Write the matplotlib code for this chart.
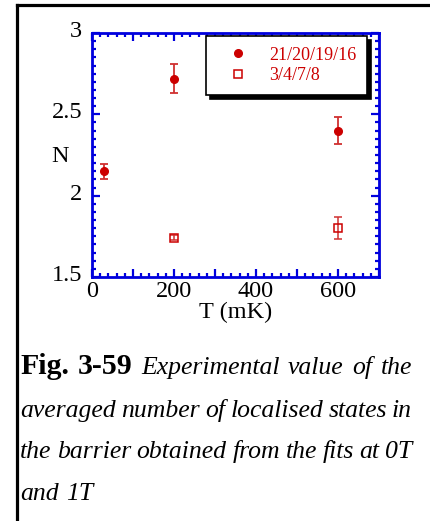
import matplotlib
matplotlib.use('Agg')
import matplotlib.pyplot as plt
from matplotlib.lines import Line2D
from matplotlib.ticker import MultipleLocator, FuncFormatter
from matplotlib.transforms import ScaledTranslation

plt.rcParams['font.family'] = ['Liberation Serif', 'DejaVu Serif']

"""Data read off the picture."""
t_filled = [30, 200, 600]
n_filled = [2.15, 2.72, 2.40]
err_filled = [0.045, 0.09, 0.085]

t_open = [200, 600]
n_open = [1.742, 1.803]
err_open = [0.015, 0.068]

labels = ['21/20/19/16', '3/4/7/8']

red = '#cc0000'
blue = '#0000dd'

W, H = 430, 521
fig = plt.figure(figsize=(W / 100, H / 100), dpi=100)
ax = fig.add_axes([92 / W, (H - 277) / H, 287 / W, 244 / H])

# data
ax.errorbar(t_filled, n_filled, yerr=err_filled, fmt='o', ms=5.5, color=red,
            ecolor='#d03030', elinewidth=1.3, capsize=3, capthick=1.3, zorder=3)
ax.errorbar(t_open, n_open, yerr=err_open, fmt='s', ms=6, mfc='none', mec=red, mew=1.1,
            ecolor='#d03030', elinewidth=1.1, capsize=3, capthick=1.1, zorder=3)

ax.set_xlim(0, 700)
ax.set_ylim(1.5, 3)

# ticks
ax.xaxis.set_major_locator(MultipleLocator(100))
ax.xaxis.set_minor_locator(MultipleLocator(20))
ax.xaxis.set_major_formatter(FuncFormatter(lambda v, p: '%d' % v if int(round(v)) % 200 == 0 else ''))
ax.yaxis.set_major_locator(MultipleLocator(0.5))
ax.yaxis.set_minor_locator(MultipleLocator(0.05))
ax.yaxis.set_major_formatter(FuncFormatter(lambda v, p: '%g' % v))
ax.tick_params(which='both', direction='in', top=True, right=True, color=blue, width=1.6)
ax.tick_params(which='major', length=6)
ax.tick_params(which='minor', length=3)
ax.tick_params(axis='y', which='major', pad=7, labelsize=17.5)
ax.tick_params(axis='x', which='major', pad=3, labelsize=17.5)
for s in ax.spines.values():
    s.set_color(blue)
    s.set_linewidth(2)

# y tick labels sit a little above their ticks in the original
up = ScaledTranslation(0, 4 / 100, fig.dpi_scale_trans)
for tk in ax.yaxis.get_major_ticks():
    tk.label1.set_transform(tk.label1.get_transform() + up)

ax.set_xlabel('T (mK)', fontsize=17.5, labelpad=0)
ax.set_ylabel('N', fontsize=17.5, rotation=0, va='center', ha='center')
ax.yaxis.set_label_coords(-0.111, 0.492)

# legend
handles = [Line2D([], [], ls='none', marker='o', ms=5.5, color=red),
           Line2D([], [], ls='none', marker='s', ms=6, mfc='none', mec=red, mew=1.1)]
leg = ax.legend(handles, labels, loc='upper left', bbox_to_anchor=(0.397, 0.988),
                borderaxespad=0, fontsize=13, frameon=True, fancybox=False,
                shadow={'color': 'k', 'alpha': 1, 'ox': 3, 'oy': -3},
                handlelength=2.4, handletextpad=0.5, borderpad=0.6, labelspacing=0.2)
leg.get_frame().set_edgecolor('k')
leg.get_frame().set_linewidth(1.2)
leg.get_frame().set_alpha(1)
for t in leg.get_texts():
    t.set_color(red)

# page border
fig.add_artist(Line2D([16.5 / W, 16.5 / W], [0, 1 - 5 / H], color='k', lw=2.3,
                      transform=fig.transFigure, solid_capstyle='projecting'))
fig.add_artist(Line2D([16.5 / W, 1], [1 - 5 / H, 1 - 5 / H], color='k', lw=2.3,
                      transform=fig.transFigure, solid_capstyle='projecting'))

# caption, justified by hand
B, I = 'bold', 'italic'
caption = [
    ([('Fig.', B), ('3-59', B), ('Experimental', I), ('value', I), ('of', I), ('the', I)], 374, True),
    ([(w, I) for w in 'averaged number of localised states in'.split()], 417, True),
    ([(w, I) for w in 'the barrier obtained from the fits at 0T'.split()], 458, True),
    ([(w, I) for w in 'and 1T'.split()], 500, False),
]
x0, x1 = 20, 412
renderer = fig.canvas.get_renderer()
for words, yb, justify in caption:
    arts = []
    for w, st in words:
        if st == B:
            t = fig.text(0, 1 - yb / H, w, fontsize=21.5, fontweight='bold', va='baseline')
        else:
            t = fig.text(0, 1 - yb / H, w, fontsize=18.5, fontstyle='italic', va='baseline')
        arts.append(t)
    widths = [a.get_window_extent(renderer).width for a in arts]
    if justify and len(arts) > 1:
        gap = (x1 - x0 - sum(widths)) / (len(arts) - 1)
    else:
        gap = 7
    x = x0
    for a, wd in zip(arts, widths):
        a.set_x(x / W)
        x += wd + gap

fig.savefig('out.png', dpi=100)
